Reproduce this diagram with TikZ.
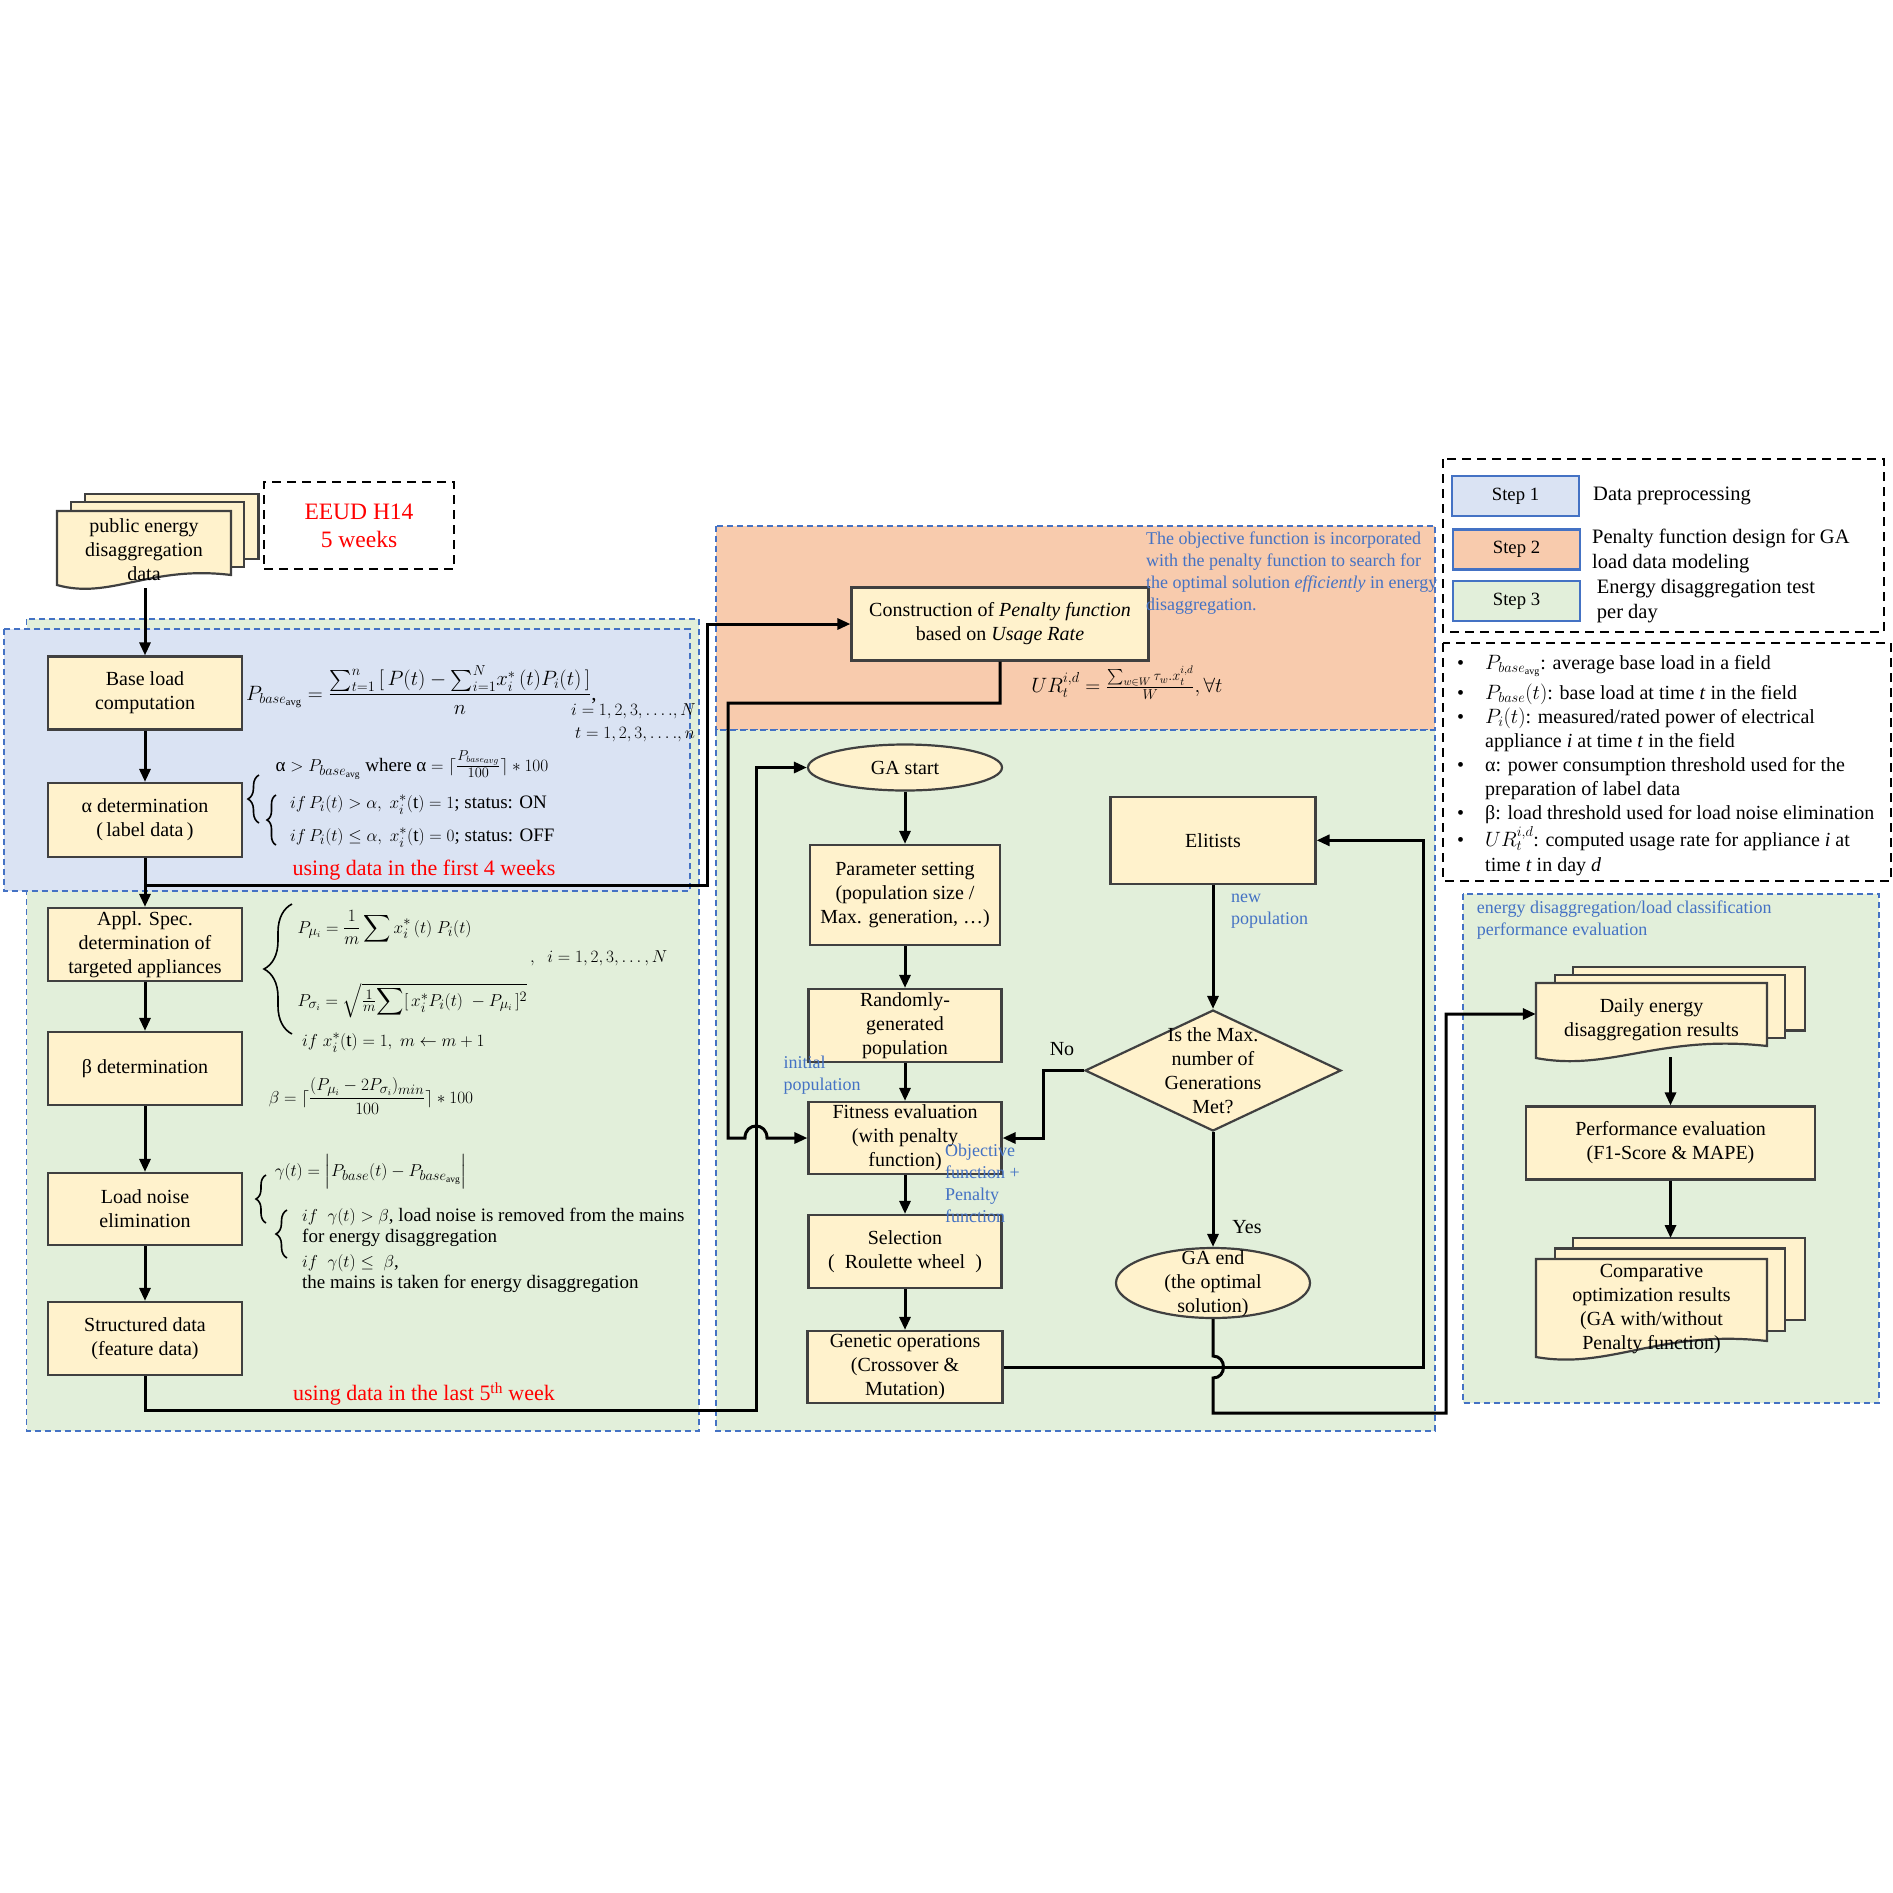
\documentclass[tikz,border=0pt]{standalone}
\usepackage{amsmath,amssymb}
\usepackage{fontspec}
\setmainfont{Liberation Serif}
\usetikzlibrary{arrows.meta,shapes.geometric,decorations.pathreplacing}

\definecolor{boxfill}{HTML}{FFF2CC}
\definecolor{boxline}{HTML}{404040}
\definecolor{stepblue}{HTML}{DAE3F3}
\definecolor{steporange}{HTML}{F8CBAD}
\definecolor{stepgreen}{HTML}{E2EFDA}
\definecolor{dashblue}{HTML}{4472C4}
\definecolor{notered}{HTML}{FF0000}

\newcommand{\flowfont}{\fontsize{20pt}{24pt}\selectfont}
\newcommand{\notefont}{\fontsize{18pt}{22pt}\selectfont}
\newcommand{\eqfont}{\fontsize{19pt}{23pt}\selectfont}
\newcommand{\redfont}{\fontsize{22pt}{26pt}\selectfont}
\newcommand{\legfont}{\fontsize{20.5pt}{25pt}\selectfont}

\tikzset{
  procbox/.style={draw=boxline, line width=2.2pt, fill=boxfill, inner sep=0pt, align=center, font=\flowfont},
  termbox/.style={ellipse, draw=boxline, line width=2.2pt, fill=boxfill, inner sep=0pt},
  decbox/.style={diamond, draw=boxline, line width=2.2pt, fill=boxfill, inner sep=0pt, minimum width=256pt, minimum height=121pt},
  sheet/.style={draw=boxline, line width=2.2pt, fill=boxfill},
  region/.style={draw=dashblue, line width=1.6pt, dash pattern=on 6pt off 4pt},
  legendbox/.style={draw=black, line width=2.6pt, dash pattern=on 9pt off 6pt},
  stepbox/.style={draw=dashblue, line width=2.6pt, minimum width=127pt, minimum height=40pt, inner sep=0pt, font=\fontsize{18.7pt}{22pt}\selectfont},
  flow/.style={line width=3pt, -{Triangle[length=13pt,width=11pt]}},
  bluenote/.style={text=dashblue, align=left, inner sep=0pt, font=\notefont, anchor=north west},
  eq/.style={inner sep=0pt, font=\eqfont, anchor=base west},
  rednote/.style={text=notered, font=\redfont, inner sep=0pt},
  defline/.style={inner sep=0pt, anchor=base west, font=\flowfont},
  curly/.style={decorate, decoration={brace, amplitude=#1}, line width=1.6pt},
  curly/.default=10pt
}

\begin{document}
\begin{tikzpicture}[x=1pt, y=-1pt]
  \useasboundingbox (0,0) rectangle (1893,1893);

  % Step regions
  \draw[region, fill=stepgreen] (26.6,619) rectangle (699,1431);
  \draw[region, fill=stepblue] (3.7,629) rectangle (690,891);
  \draw[region, fill=steporange] (716,525.7) rectangle (1435,730);
  \draw[region, fill=stepgreen] (716,730) rectangle (1435,1431);
  \draw[region, fill=stepgreen] (1462.7,893.8) rectangle (1879,1402.7);

  % Input data
  \filldraw[sheet] (85,494) rectangle (258.5,559);
  \filldraw[sheet] (71,502) rectangle (244,567);
  \filldraw[sheet] (57,511) -- (231,511) -- (231,575) .. controls (150,565) and (110,600) .. (57,585) -- cycle;
  \node[align=center, font=\flowfont, inner sep=0pt, minimum width=174pt, minimum height=77pt] (pub) at (144,549.5) {public energy\\disaggregation\\data};
  \node[legendbox, minimum width=190pt, minimum height=87pt, text=notered, align=center, font=\fontsize{23.5pt}{28pt}\selectfont] (eeud) at (359,525.5) {EEUD H14\\5 weeks};

  % Step 1: preprocessing
  \node[procbox, minimum width=194pt, minimum height=73pt] (base) at (145,693) {Base load\\computation};
  \node[procbox, minimum width=194pt, minimum height=74pt] (alpha) at (145,820) {α determination\\(\,label data\,)};
  \node[procbox, minimum width=194pt, minimum height=73pt] (appl) at (145,944.5) {Appl. Spec.\\determination of\\targeted appliances};
  \node[procbox, minimum width=194pt, minimum height=73pt] (beta) at (145,1068.5) {β determination};
  \node[procbox, minimum width=194pt, minimum height=72pt] (noise) at (145,1209) {Load noise\\elimination};
  \node[procbox, minimum width=194pt, minimum height=73pt] (struct) at (145,1338.5) {Structured data\\(feature data)};

  % Formulas
  \node[eq, font=\fontsize{21pt}{25pt}\selectfont] (fbase) at (246,700) {$P_{base_{\mathrm{avg}}} = \dfrac{\sum\nolimits_{t=1}^{n}\,[\,P(t) - {\textstyle\sum_{i=1}^{N}} x_i^*\,(t)P_i(t)\,]}{n}$,};
  \node[eq] (fi) at (571,715) {$i = 1,2,3,\ldots.,N$};
  \node[eq] (ft) at (575,738) {$t = 1,2,3,\ldots.,n$};
  \draw[curly=11pt] (259,823) -- (259,775);
  \draw[curly=9pt] (276,845) -- (276,795);
  \node[eq] (fa1) at (275.5,771) {α $>P_{base_{\mathrm{avg}}}$ where α $=\lceil\frac{P_{base_{avg}}}{100}\rceil * 100$};
  \node[eq] (fa2) at (290,808) {$if\,P_i(t) > \alpha,\ x_i^*(\mathrm{t}) = 1$; status: ON};
  \node[eq] (fa3) at (290,841) {$if\,P_i(t) \le \alpha,\ x_i^*(\mathrm{t}) = 0$; status: OFF};
  \node[rednote] (red1) at (424,870) {using data in the first 4 weeks};

  \draw[curly=28pt] (292,1034) -- (292,904);
  \node[eq] (fmu) at (297.5,933) {$\displaystyle P_{\mu_i} = \frac{1}{m}\sum x_i^*\,(t)\ P_i(t)$};
  \node[eq] (fn) at (530,962) {$,\ \ i = 1,2,3,\ldots,N$};
  \node[eq] (fsig) at (297.5,1006) {$P_{\sigma_i} = \sqrt{\tfrac{1}{m}{\displaystyle\sum}[\,x_i^*P_i(t)\ - P_{\mu_i}\,]^2}$};
  \node[eq] (fm) at (302,1046) {$if\ x_i^*(\mathrm{t}) = 1,\ m \leftarrow m+1$};
  \node[eq] (fbeta) at (268.6,1103) {$\displaystyle\beta = \lceil\frac{(P_{\mu_i} - 2P_{\sigma_i})_{min}}{100}\rceil * 100$};

  \draw[curly=10pt] (266,1223) -- (266,1175);
  \draw[curly=11pt] (287,1258) -- (287,1210);
  \node[eq] (fgam) at (274.6,1176) {$\gamma(t) = \Bigl|P_{base}(t) - P_{base_{\mathrm{avg}}}\Bigr|$};
  \node[eq] (fg1) at (302,1221) {$if\ \ \gamma(t) > \beta$,\ load noise is removed from the mains};
  \node[eq] (fg2) at (302,1242) {for energy disaggregation};
  \node[eq] (fg3) at (302,1267) {$if\ \ \gamma(t) \le\ \beta$,};
  \node[eq] (fg4) at (302,1288) {the mains is taken for energy disaggregation};
  \node[rednote] (red2) at (424,1394) {using data in the last 5\textsuperscript{th} week};

  % Step 2: penalty function
  \node[procbox, minimum width=297pt, minimum height=73pt] (constr) at (1000,624) {Construction of \textit{Penalty function}\\based on \textit{Usage Rate}};
  \node[eq, anchor=center, font=\fontsize{22pt}{26pt}\selectfont] (fur) at (1127,683) {$UR_t^{i,d} = \frac{\sum_{w\in W}\tau_w . x_t^{i,d}}{W}, \forall t$};
  \node[bluenote] (objnote) at (1146,532) {The objective function is incorporated\\with the penalty function to search for\\the optimal solution \textit{efficiently} in energy\\disaggregation.};

  % Step 3: GA
  \node[termbox, minimum width=194pt, minimum height=46pt, font=\flowfont] (gastart) at (905,767.5) {GA start};
  \node[procbox, minimum width=190pt, minimum height=100pt] (param) at (905,895) {Parameter setting\\(population size /\\Max. generation, \dots)};
  \node[procbox, minimum width=193pt, minimum height=73pt] (rand) at (905,1025.5) {Randomly-\\generated\\population};
  \node[procbox, minimum width=193pt, minimum height=72pt] (fit) at (905,1138) {Fitness evaluation\\(with penalty\\function)};
  \node[procbox, minimum width=193pt, minimum height=73pt] (sel) at (905,1251.5) {Selection\\(\enspace Roulette wheel\enspace)};
  \node[procbox, minimum width=195pt, minimum height=72pt] (gen) at (905,1367) {Genetic operations\\(Crossover \&\\Mutation)};
  \node[procbox, minimum width=205pt, minimum height=87pt] (elit) at (1213,840.3) {Elitists};
  \node[decbox] (dec) at (1213,1070.5) {};
  \node[align=center, font=\flowfont, inner sep=0pt] (dect) at (dec) {Is the Max.\\number of\\Generations\\Met?};
  \node[termbox, minimum width=194pt, minimum height=70pt] (gaend) at (1213,1283) {};
  \node[align=center, font=\flowfont, inner sep=0pt] (gaendt) at (1213,1283.5) {GA end\\(the optimal\\solution)};
  \node[font=\flowfont, inner sep=0pt] (no) at (1062,1049) {No};
  \node[font=\flowfont, inner sep=0pt] (yes) at (1247,1227.5) {Yes};
  \node[bluenote] (newpop) at (1231,894) {new\\population};
  \node[bluenote] (initpop) at (783.5,1056) {initial\\population};
  \node[bluenote] (objpen) at (945,1144) {Objective\\function +\\Penalty\\function};

  % Evaluation
  \node[bluenote] (evalnote) at (1476.7,901) {energy disaggregation/load classification\\performance evaluation};
  \filldraw[sheet] (1573,967) rectangle (1805,1030.5);
  \filldraw[sheet] (1555,975) rectangle (1785,1038);
  \filldraw[sheet] (1536,983) -- (1767,983) -- (1767,1046) .. controls (1660,1034) and (1610,1072) .. (1536,1058) -- cycle;
  \node[align=center, font=\flowfont, inner sep=0pt, minimum width=231pt, minimum height=74pt] (daily) at (1651.5,1020) {Daily energy\\disaggregation results};
  \node[procbox, minimum width=289pt, minimum height=73pt] (perf) at (1670.5,1143) {Performance evaluation\\(F1-Score \& MAPE)};
  \filldraw[sheet] (1573,1238) rectangle (1805,1320);
  \filldraw[sheet] (1555,1248.5) rectangle (1785,1331);
  \filldraw[sheet] (1536,1259) -- (1767,1259) -- (1767,1341) .. controls (1660,1329) and (1610,1370) .. (1536,1357) -- cycle;
  \node[align=center, font=\flowfont, inner sep=0pt] (comp) at (1651.5,1309) {Comparative\\optimization results\\(GA with/without\\Penalty function)};
  \coordinate (comptop) at (1670.5,1238);

  % Legend
  \draw[legendbox] (1443,459) rectangle (1884,632);
  \node[stepbox, fill=stepblue] (s1) at (1515.5,496) {Step 1};
  \node[stepbox, fill=steporange] (s2) at (1516.5,549.5) {Step 2};
  \node[stepbox, fill=stepgreen] (s3) at (1516.5,601) {Step 3};
  \node[anchor=west, inner sep=0pt, font=\legfont] (s1t) at (1593,496) {Data preprocessing};
  \node[anchor=west, inner sep=0pt, align=left, font=\legfont] (s2t) at (1592,550.5) {Penalty function design for GA\\load data modeling};
  \node[anchor=west, inner sep=0pt, align=left, font=\legfont] (s3t) at (1596.7,601.5) {Energy disaggregation test\\per day};

  % Definitions
  \draw[legendbox] (1443,643) rectangle (1891,881);
  \node[defline] (d1) at (1457,669) {\makebox[28pt][l]{\textbullet}$P_{base_{\mathrm{avg}}}$: average base load in a field};
  \node[defline] (d2) at (1457,699) {\makebox[28pt][l]{\textbullet}$P_{base}(t)$: base load at time \textit{t} in the field};
  \node[defline] (d3) at (1457,723) {\makebox[28pt][l]{\textbullet}$P_i(t)$: measured/rated power of electrical};
  \node[defline] (d3b) at (1485,747) {appliance \textit{i} at time \textit{t} in the field};
  \node[defline] (d4) at (1457,771) {\makebox[28pt][l]{\textbullet}α: power consumption threshold used for the};
  \node[defline] (d4b) at (1485,795) {preparation of label data};
  \node[defline] (d5) at (1457,819) {\makebox[28pt][l]{\textbullet}β: load threshold used for load noise elimination};
  \node[defline] (d6) at (1457,846) {\makebox[28pt][l]{\textbullet}$UR_t^{i,d}$: computed usage rate for appliance \textit{i} at};
  \node[defline] (d6b) at (1485,871) {time \textit{t} in day \textit{d}};

  % Bend points
  \coordinate (jA) at (707,885);
  \coordinate (jB) at (756,1410);
  \coordinate (jC) at (728,703);
  \coordinate (hop1) at (745,1138);
  \coordinate (hop2) at (767,1138);
  \coordinate (jD) at (1423,1367);
  \coordinate (jE) at (1043.5,1138);
  \coordinate (hop3) at (1213,1356);
  \coordinate (hop4) at (1213,1378);
  \coordinate (jF) at (1446,1413);
  \coordinate (jG) at (1446,1014);

  % Connectors
  \draw[flow] (base.north |- pub.south) -- (base.north);
  \draw[flow] (base.south) -- (alpha.north);
  \draw[flow] (alpha.south) -- (appl.north);
  \draw[flow] (appl.south) -- (beta.north);
  \draw[flow] (beta.south) -- (noise.north);
  \draw[flow] (noise.south) -- (struct.north);
  \draw[flow] (alpha.south) |- (jA) |- (constr.west);
  \draw[flow] (struct.south) |- (jB) |- (gastart.west);
  \draw[flow] (constr.south) |- (jC) |- (hop1) .. controls +(0,-16) and +(0,-16) .. (hop2) -- (fit.west);
  \draw[flow] (gastart.south) -- (param.north);
  \draw[flow] (param.south) -- (rand.north);
  \draw[flow] (rand.south) -- (fit.north);
  \draw[flow] (fit.south) -- (sel.north);
  \draw[flow] (sel.south) -- (gen.north);
  \draw[flow] (gen.east) -- (jD) |- (elit.east);
  \draw[flow] (elit.south) -- (dec.north);
  \draw[flow] (dec.west) -| (jE) -- (fit.east);
  \draw[flow] (dec.south) -- (gaend.north);
  \draw[flow] (gaend.south) -- (hop3) .. controls +(14,0) and +(14,0) .. (hop4) |- (jF) -- (jG) -- (jG -| daily.west);
  \draw[flow] (perf.north |- daily.south) -- (perf.north);
  \draw[flow] (perf.south) -- (comptop);
\end{tikzpicture}
\end{document}
